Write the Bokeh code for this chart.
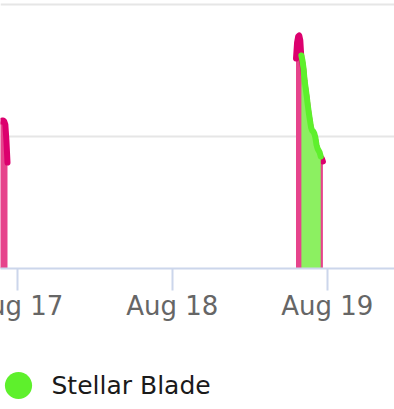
import pandas as pd
from bokeh.plotting import figure
from bokeh.layouts import column
from bokeh.models import (Range1d, FixedTicker, DatetimeTickFormatter,
                          Legend, LegendItem)
from bokeh.embed import file_html
from bokeh.resources import INLINE

# ---------------- data ----------------
pink_a_times = pd.date_range("2025-08-16 21:00", "2025-08-16 22:30", freq="10min")
pink_a_values = [11136, 11212, 11136, 11136, 11212, 11212, 11136, 10909, 9697, 8030]

pink_b_times = pd.date_range("2025-08-18 19:10", "2025-08-18 23:20", freq="10min")
pink_b_values = [15909, 17121, 17576, 17652, 17273, 15909,
                 15530, 14924, 14015, 13409, 12803, 12121, 11515, 10985, 10455,
                 10227, 10152, 10000, 9697, 9167, 8864, 8712, 8561, 8258,
                 8333, 8106]

green_times = pd.date_range("2025-08-18 20:00", "2025-08-18 23:00", freq="10min")
green_values = [16136, 15758, 15152, 14242, 13636, 13030, 12348, 11742, 11212,
                10682, 10455, 10379, 10227, 9924, 9394, 9091, 8939, 8788, 8485]

series_name = "Stellar Blade"
x_ticks = ["2025-08-16", "2025-08-17", "2025-08-18", "2025-08-19", "2025-08-20"]
y_ticks = [10000, 20000]

# ---------------- style ----------------
PINK_LINE = "#dc006e"
PINK_FILL = "#e6448c"
GREEN_LINE = "#5ef02c"
GREEN_FILL = "#8cf061"

SHIFT = 40  # part of the canvas hidden to the left of the window

x_start = pd.Timestamp("2025-08-16 21:25")
x_end = pd.Timestamp("2025-08-19 10:25")

p = figure(width=394 + SHIFT, height=330, x_axis_type="datetime",
           x_range=Range1d(x_start, x_end), y_range=Range1d(0, 20303),
           y_axis_location=None, output_backend="svg", toolbar_location=None,
           min_border_left=SHIFT, min_border_right=0, min_border_top=0,
           min_border_bottom=62)
p.outline_line_color = None
p.xgrid.visible = False
p.ygrid.ticker = FixedTicker(ticks=y_ticks)
p.ygrid.grid_line_color = "#e6e6e6"
p.ygrid.grid_line_width = 2

line_kw = dict(line_width=6, line_join="round", line_cap="round")

p.varea(x=pink_a_times, y1=0, y2=pink_a_values, fill_color=PINK_FILL)
p.line(x=pink_a_times, y=pink_a_values, line_color=PINK_LINE, **line_kw)
p.varea(x=pink_b_times, y1=0, y2=pink_b_values, fill_color=PINK_FILL)
p.line(x=pink_b_times, y=pink_b_values, line_color=PINK_LINE, **line_kw)
p.varea(x=green_times, y1=0, y2=green_values, fill_color=GREEN_FILL)
p.line(x=green_times, y=green_values, line_color=GREEN_LINE, **line_kw)

ax = p.xaxis[0]
ax.ticker = FixedTicker(ticks=[pd.Timestamp(t).value / 1e6 for t in x_ticks])
fmt = "%b %d"
ax.formatter = DatetimeTickFormatter(days=fmt, months=fmt, hours=fmt,
                                     hourmin=fmt, years=fmt)
ax.axis_line_color = "#ccd6eb"
ax.axis_line_width = 2
ax.major_tick_line_color = "#ccd6eb"
ax.major_tick_line_width = 2
ax.major_tick_out = 22
ax.major_tick_in = 0
ax.minor_tick_line_color = None
ax.major_label_standoff = 0
ax.major_label_text_font = "DejaVu Sans"
ax.major_label_text_font_size = "26px"
ax.major_label_text_color = "#666666"

# legend strip below the chart (key renderer sits outside its visible range)
lg = figure(width=394 + SHIFT, height=79, x_range=Range1d(0, 1), y_range=Range1d(0, 1),
            x_axis_location=None, y_axis_location=None, output_backend="svg",
            toolbar_location=None, min_border=0)
lg.outline_line_color = None
lg.xgrid.visible = False
lg.ygrid.visible = False
key = lg.scatter(x=[-5], y=[-5], size=27, fill_color=GREEN_LINE, line_color=None)
legend = Legend(items=[LegendItem(label=series_name, renderers=[key])],
                location=(-16.5, -10), glyph_width=68, glyph_height=68,
                padding=0, margin=0, spacing=0, label_standoff=0,
                border_line_color=None, background_fill_alpha=0,
                label_text_font="DejaVu Sans", label_text_font_size="25px",
                label_text_color="#1a1a1a")
lg.add_layout(legend)

layout = column(p, lg, spacing=0)
layout.margin = (0, 0, 0, -SHIFT)

open("out.html", "w").write(file_html(layout, INLINE))
